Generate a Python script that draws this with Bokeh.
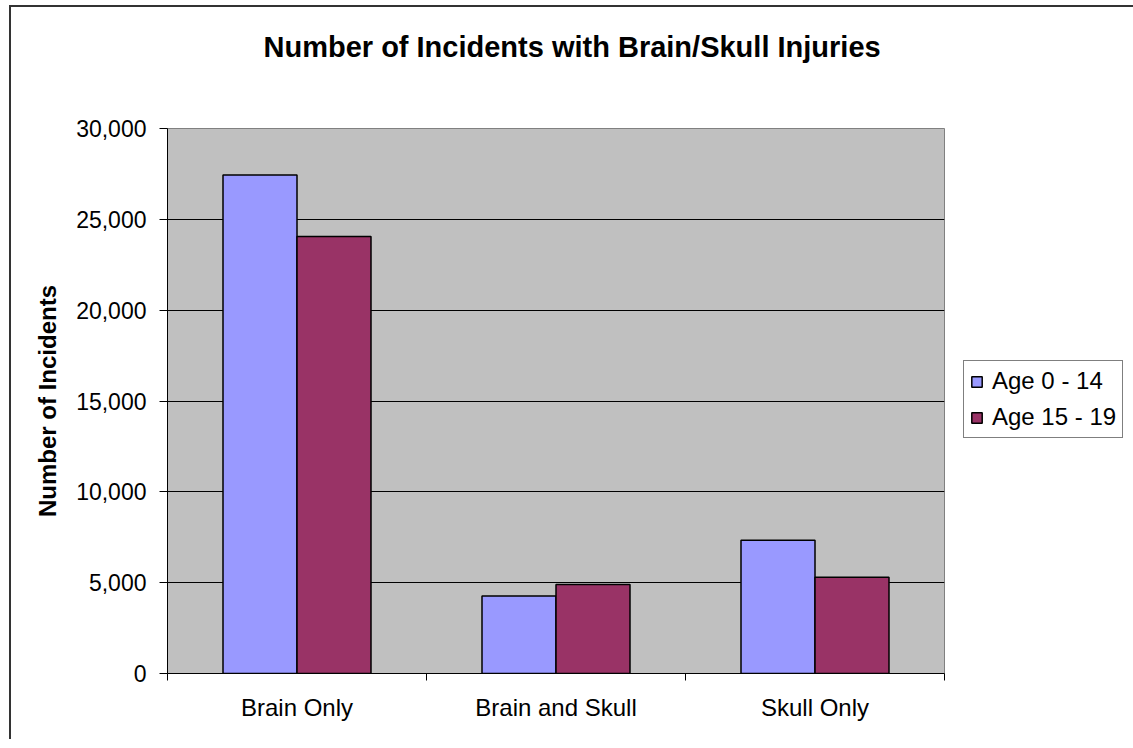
from bokeh.plotting import figure
from bokeh.models import ColumnDataSource, FixedTicker, NumeralTickFormatter, Range1d, Legend, LegendItem, Title
from bokeh.transform import dodge
from bokeh.embed import file_html
from bokeh.resources import INLINE

categories = ["Brain Only", "Brain and Skull", "Skull Only"]
series_names = ["Age 0 - 14", "Age 15 - 19"]
age_0_14 = [27440, 4270, 7340]
age_15_19 = [24060, 4900, 5300]
y_ticks = [0, 5000, 10000, 15000, 20000, 25000, 30000]

FONT = "Liberation Sans"
BAR_W = 0.2857

src = ColumnDataSource(dict(
    x=[i + 0.5 for i in range(len(categories))],
    a=age_0_14,
    b=age_15_19,
))

p = figure(frame_width=777, frame_height=545, output_backend="svg", toolbar_location=None,
           x_range=Range1d(0, len(categories)), y_range=Range1d(0, 30000),
           min_border_left=156, min_border_right=182, min_border_top=121, min_border_bottom=66,
           title="Number of Incidents with Brain/Skull Injuries")
p.styles = {"margin-top": "5px", "margin-left": "9px",
            "border-top": "2px solid #333333", "border-left": "2px solid #333333"}

p.background_fill_color = "#C0C0C0"
p.border_fill_color = "white"
p.outline_line_color = "#808080"
p.outline_line_width = 1

# spacer between the title and the plot area
p.add_layout(Title(text=" ", text_font_size="1px", standoff=56), "above")

p.title.align = "left"
p.title.vertical_align = "top"
p.title.text_font = FONT
p.title.text_font_size = "29px"
p.title.text_font_style = "bold"
p.title.text_color = "black"
p.title.offset = 96
p.title.standoff = 10

r1 = p.vbar(x=dodge("x", -BAR_W / 2, range=p.x_range), top="a", width=BAR_W, source=src,
            fill_color="#9999FF", line_color="black", line_width=1.5)
r2 = p.vbar(x=dodge("x", BAR_W / 2, range=p.x_range), top="b", width=BAR_W, source=src,
            fill_color="#993366", line_color="black", line_width=1.5)

# x axis: labels at category centers, ticks at category boundaries
xa = p.xaxis[0]
xa.ticker = FixedTicker(ticks=[i + 0.5 for i in range(len(categories))],
                        minor_ticks=list(range(len(categories) + 1)))
xa.major_label_overrides = {i + 0.5: c for i, c in enumerate(categories)}
xa.major_tick_line_color = None
xa.minor_tick_in = 0
xa.minor_tick_out = 7
xa.minor_tick_line_color = "black"
xa.axis_line_color = "black"
xa.major_label_text_font = FONT
xa.major_label_text_font_size = "24px"
xa.major_label_text_color = "black"
xa.major_label_standoff = 13

ya = p.yaxis[0]
ya.ticker = FixedTicker(ticks=y_ticks)
ya.formatter = NumeralTickFormatter(format="0,0")
ya.major_tick_in = 0
ya.major_tick_out = 8
ya.minor_tick_line_color = None
ya.major_tick_line_color = "black"
ya.axis_line_color = "black"
ya.major_label_text_font = FONT
ya.major_label_text_font_size = "23px"
ya.major_label_text_color = "black"
ya.major_label_standoff = 13
ya.axis_label = "Number of Incidents"
ya.axis_label_text_font = FONT
ya.axis_label_text_font_size = "24px"
ya.axis_label_text_font_style = "bold"
ya.axis_label_text_color = "black"
ya.axis_label_standoff = 12

p.xgrid.grid_line_color = None
p.ygrid.grid_line_color = "black"
p.ygrid.grid_line_width = 1
p.ygrid.ticker = FixedTicker(ticks=y_ticks)

legend = Legend(items=[LegendItem(label=series_names[0], renderers=[r1]),
                       LegendItem(label=series_names[1], renderers=[r2])],
                location=(19, 235))
legend.border_line_color = "black"
legend.border_line_width = 1
legend.background_fill_color = "white"
legend.background_fill_alpha = 1
legend.label_text_font = FONT
legend.label_text_font_size = "24px"
legend.label_text_color = "black"
legend.glyph_width = 13
legend.glyph_height = 13
legend.label_standoff = 9
legend.label_height = 25
legend.padding = 6
legend.spacing = 8
legend.margin = 0
p.add_layout(legend, "right")

open("out.html", "w").write(file_html(p, INLINE))
